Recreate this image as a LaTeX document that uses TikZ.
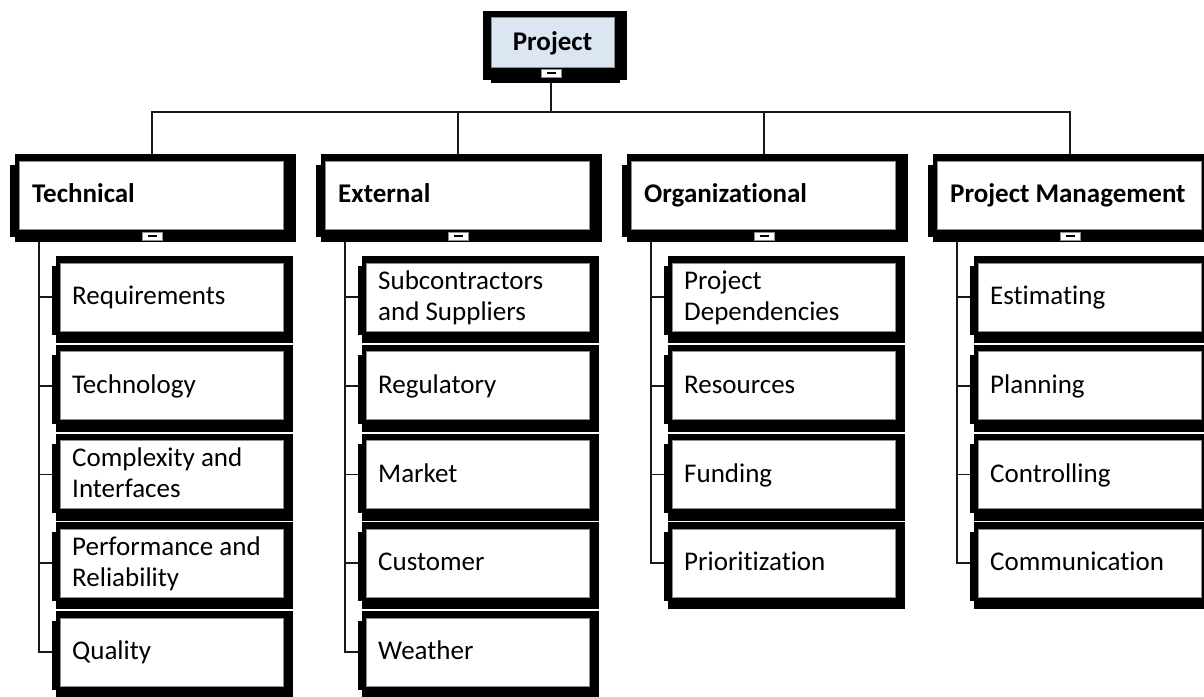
\documentclass[tikz,border=0pt]{standalone}
\usepackage{fontspec}
\setmainfont{Carlito}[Ligatures={TeX,NoCommon}]
\definecolor{projblue}{HTML}{DCE6F2}
\tikzset{
 conn/.style={line width=1.6pt, draw=black!90},
 innerb/.style={fill=white, draw=black!45, line width=0.8pt},
 btnbox/.style={fill=white, draw=black!45, line width=0.6pt},
 lbl/.style={inner sep=0pt, font=\fontsize{27}{31}\selectfont, align=left, anchor=west},
 blbl/.style={lbl, font=\bfseries\fontsize{27}{31}\selectfont},
}
\newcommand\st{\rule[-5pt]{0pt}{25pt}}
\newcommand\btn[2]{%
 \filldraw[btnbox] ({#1-10},#2) rectangle ({#1+10},{#2+8});
 \fill ({#1-4.5},{#2+3.2}) rectangle ({#1+4.5},{#2+5});
}
\newcommand\lvlbox[3]{%
 \fill ({#2+5},154) rectangle ({#2+286},242);
 \fill (#2,165) rectangle ({#2+6},237);
 \draw[innerb] ({#2+9},161) rectangle ({#2+273},229);
 \node[blbl] (#1) at ({#2+22},195) {\st #3};
 \btn{#2+142}{232}
 \coordinate (#1-top) at ({#2+142},154);
 \coordinate (#1-bot) at ({#2+29},242);
}
\newcommand\kid[4]{%
 \fill ({#2+4},{#3-41}) rectangle ({#2+241},{#3+46});
 \fill (#2,{#3-31}) rectangle ({#2+5},{#3+38});
 \draw[innerb] ({#2+8},{#3-34}) rectangle ({#2+231},{#3+34});
 \node[lbl] (#1) at ({#2+20},#3) {#4};
 \coordinate (#1-w) at (#2,#3);
}
\begin{document}
\begin{tikzpicture}[x=1pt,y=-1pt]
\useasboundingbox (0,0) rectangle (1204,696);
\clip (0,0) rectangle (1204,696);
\coordinate (bus) at (0,112);
\coordinate (proj-bot) at (551,83);
% project
\fill (483,11) rectangle (627,80);
\fill (491,80) rectangle (620,83);
\draw[innerb, fill=projblue] (491,17) rectangle (614,67);
\node[blbl, anchor=center] (proj) at (552.5,43) {\st Project};
\btn{551}{69}
% level 1
\lvlbox{tech}{10}{Technical}
\lvlbox{ext}{316}{External}
\lvlbox{org}{622}{Organizational}
\lvlbox{pm}{928}{Project Management}
% children
\kid{t1}{52}{297}{\st Requirements}
\kid{t2}{52}{385.75}{\st Technology}
\kid{t3}{52}{474.5}{\st Complexity and\\\st Interfaces}
\kid{t4}{52}{563.25}{\st Performance and\\\st Reliability}
\kid{t5}{52}{652}{\st Quality}
\kid{e1}{358}{297}{\st Subcontractors\\\st and Suppliers}
\kid{e2}{358}{385.75}{\st Regulatory}
\kid{e3}{358}{474.5}{\st Market}
\kid{e4}{358}{563.25}{\st Customer}
\kid{e5}{358}{652}{\st Weather}
\kid{o1}{664}{297}{\st Project\\\st Dependencies}
\kid{o2}{664}{385.75}{\st Resources}
\kid{o3}{664}{474.5}{\st Funding}
\kid{o4}{664}{563.25}{\st Prioritization}
\kid{p1}{970}{297}{\st Estimating}
\kid{p2}{970}{385.75}{\st Planning}
\kid{p3}{970}{474.5}{\st Controlling}
\kid{p4}{970}{563.25}{\st Communication}
% connectors
\draw[conn] (proj-bot) -- (proj-bot |- bus);
\draw[conn] (tech-top) -- (tech-top |- bus) -- (pm-top |- bus) -- (pm-top);
\draw[conn] (ext-top) -- (ext-top |- bus);
\draw[conn] (org-top) -- (org-top |- bus);
\draw[conn] (tech-bot) |- (t5-w);
\foreach \k in {t1,t2,t3,t4} \draw[conn] (tech-bot |- \k-w) -- (\k-w);
\draw[conn] (ext-bot) |- (e5-w);
\foreach \k in {e1,e2,e3,e4} \draw[conn] (ext-bot |- \k-w) -- (\k-w);
\draw[conn] (org-bot) |- (o4-w);
\foreach \k in {o1,o2,o3} \draw[conn] (org-bot |- \k-w) -- (\k-w);
\draw[conn] (pm-bot) |- (p4-w);
\foreach \k in {p1,p2,p3} \draw[conn] (pm-bot |- \k-w) -- (\k-w);
\end{tikzpicture}
\end{document}
